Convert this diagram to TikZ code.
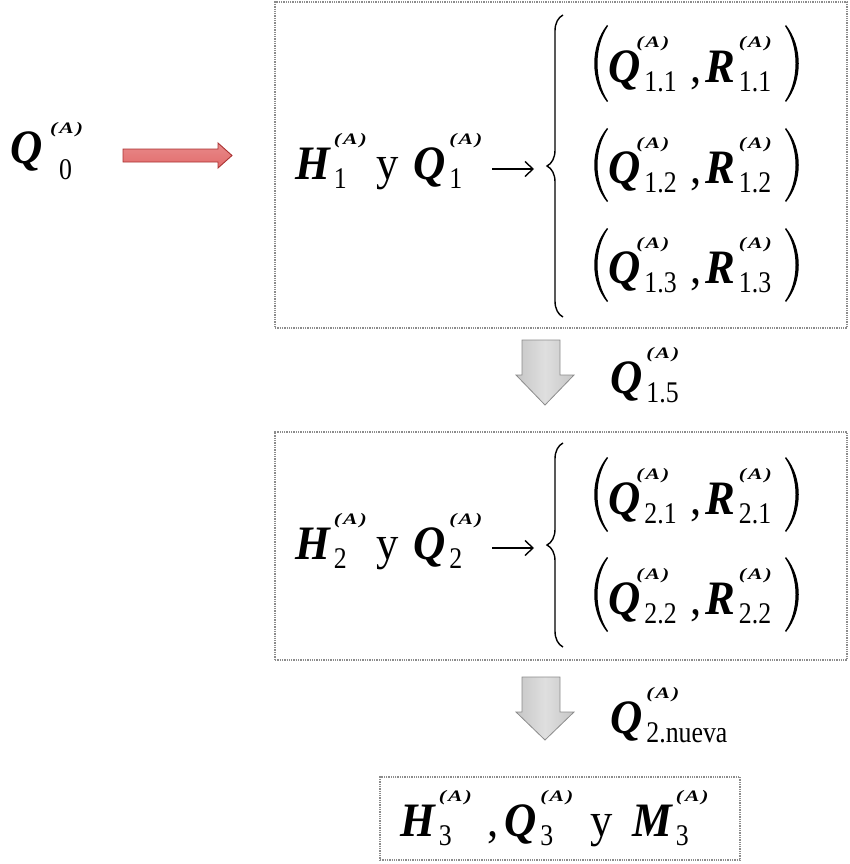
\documentclass[tikz,border=0pt]{standalone}
\usepackage{fontspec}
\setmainfont{Liberation Serif}[FakeStretch=0.93]
\newfontfamily\supfam{Liberation Serif}[FakeStretch=1.35]
\newfontfamily\subfam{Liberation Serif}[FakeStretch=0.86]
\usetikzlibrary{decorations.pathreplacing,arrows.meta}
\newcommand{\mainf}{\fontsize{48}{52}\selectfont}
\newcommand{\subf}{\subfam\fontsize{30}{32}\selectfont\upshape\mdseries}
\newcommand{\supf}{{\supfam\fontsize{16}{17}\selectfont\bfseries\itshape(\kern2pt A\kern2pt)}}
\newcommand{\vv}[3][0pt]{{\bfseries\itshape #2}\kern4pt\ooalign{\raisebox{35pt}{\kern#1\supf}\cr\raisebox{-9pt}{\subf #3}\cr}}
\newcommand{\lpar}[3]{\fill[black] ({#1+14},#2) .. controls ({#1-3},{#2+0.28*(#3-#2)}) and ({#1-3},{#3-0.28*(#3-#2)}) .. ({#1+14},#3) -- ({#1+15},{#3-1}) .. controls ({#1+1},{#3-0.28*(#3-#2)}) and ({#1+1},{#2+0.28*(#3-#2)}) .. ({#1+15},{#2+1}) -- cycle;}
\newcommand{\rpar}[3]{\fill[black] ({#1-14},#2) .. controls ({#1+3},{#2+0.28*(#3-#2)}) and ({#1+3},{#3-0.28*(#3-#2)}) .. ({#1-14},#3) -- ({#1-15},{#3-1}) .. controls ({#1-1},{#3-0.28*(#3-#2)}) and ({#1-1},{#2+0.28*(#3-#2)}) .. ({#1-15},{#2+1}) -- cycle;}
\definecolor{redfill}{RGB}{226,108,108}
\definecolor{redline}{RGB}{170,50,50}
\definecolor{grayline}{RGB}{140,140,140}
\begin{document}
\begin{tikzpicture}[x=1pt,y=-1pt,
  box/.style={draw=gray!90, densely dotted, line width=1.3pt, inner sep=0, fill=none},
  txt/.style={anchor=base west, inner sep=0, font=\mainf},
  bracestyle/.style={decorate, decoration={brace, amplitude=16pt}, line width=1.4pt},
  implies/.style={-{Straight Barb[length=8pt,width=15pt,line width=1.4pt]}, line width=1.4pt},
  grayarrow/.style={left color=gray!45, right color=gray!45, middle color=gray!25, draw=grayline, line width=0.8pt},
  redarrow/.style={top color=redfill!80, bottom color=redfill, draw=redline, line width=0.9pt}]
\useasboundingbox (0,0) rectangle (850,864);
% boxes
\node[box, minimum width=572pt, minimum height=326pt] (box1) at (561,165) {};
\node[box, minimum width=572pt, minimum height=228pt] (box2) at (561,546) {};
\node[box, minimum width=360pt, minimum height=83pt] (box3) at (560,818.5) {};
% Q0
\node[txt] (q0) at (10,163) {\bfseries\itshape Q};
\node[txt] (q0sup) at (50,133) {\supf};
\node[txt] (q0sub) at (59,179) {\subf 0};
% red arrow
\draw[redarrow] (123,149) -- (218,149) -- (218,143) -- (232,155.5) -- (218,168) -- (218,162) -- (123,162) -- cycle;
% box1 left
\node[txt] (h1) at (295,179) {\vv{H}{1}};
\node[txt] (y1) at (376,179) {y};
\node[txt] (q1) at (413,179) {\vv{Q}{1}};
\coordinate (a1s) at (492,169);
\coordinate (a1e) at (534,169);
\draw[implies] (a1s) -- (a1e);
\draw[bracestyle] (563,317) -- (563,15);
% box1 rows
\lpar{593}{25}{102}\rpar{800}{25}{102}
\lpar{593}{128}{202}\rpar{800}{128}{202}
\lpar{593}{228}{302}\rpar{800}{228}{302}
\node[txt] (q11) at (608,83) {\vv[-8pt]{Q}{1.1}};
\node[txt] (c11) at (690,83) {,};
\node[txt] (r11) at (705,83) {\vv{R}{1.1}};
\node[txt] (q12) at (608,183) {\vv[-8pt]{Q}{1.2}};
\node[txt] (c12) at (690,183) {,};
\node[txt] (r12) at (705,183) {\vv{R}{1.2}};
\node[txt] (q13) at (608,283) {\vv[-8pt]{Q}{1.3}};
\node[txt] (c13) at (690,283) {,};
\node[txt] (r13) at (705,283) {\vv{R}{1.3}};
% gray arrow 1
\draw[grayarrow] (522,340) -- (560,340) -- (560,375) -- (574,375) -- (545,405) -- (516,375) -- (522,375) -- cycle;
\node[txt] (q15) at (610,393) {\vv{Q}{1.5}};
% box2 left
\node[txt] (h2) at (295,559) {\vv{H}{2}};
\node[txt] (y2) at (376,559) {y};
\node[txt] (q2) at (413,559) {\vv{Q}{2}};
\coordinate (a2s) at (492,548);
\coordinate (a2e) at (534,548);
\draw[implies] (a2s) -- (a2e);
\draw[bracestyle] (563,647) -- (563,443);
\lpar{593}{457}{532}\rpar{800}{457}{532}
\lpar{593}{557}{632}\rpar{800}{557}{632}
\node[txt] (q21) at (608,514) {\vv[-8pt]{Q}{2.1}};
\node[txt] (c21) at (690,514) {,};
\node[txt] (r21) at (705,514) {\vv{R}{2.1}};
\node[txt] (q22) at (608,614) {\vv[-8pt]{Q}{2.2}};
\node[txt] (c22) at (690,614) {,};
\node[txt] (r22) at (705,614) {\vv{R}{2.2}};
% gray arrow 2
\draw[grayarrow] (522,677) -- (560,677) -- (560,712) -- (574,712) -- (545,740) -- (516,712) -- (522,712) -- cycle;
\node[txt] (q2n) at (610,733) {\vv{Q}{2.nueva}};
% box3
\node[txt] (h3) at (400,836) {\vv{H}{3}};
\node[txt] (c3) at (487,836) {,};
\node[txt] (q3) at (504,836) {\vv{Q}{3}};
\node[txt] (y3) at (590,836) {y};
\node[txt] (m3) at (632,836) {\vv{M}{3}};
\end{tikzpicture}
\end{document}
